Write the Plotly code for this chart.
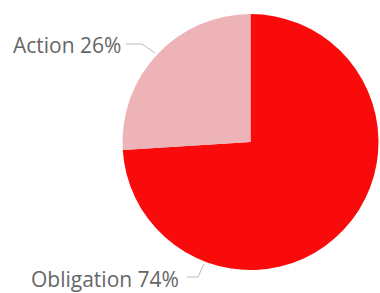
import plotly.graph_objects as go

labels = ["Obligation", "Action"]
values = [74, 26]
colors = ["#F90B0B", "#EDB3B6"]

W, H = 380, 293

fig = go.Figure()
fig.add_trace(go.Pie(
    labels=labels, values=values, sort=False, direction="clockwise", rotation=0,
    marker=dict(colors=colors, line=dict(width=0)),
    textinfo="none", hoverinfo="label+percent", showlegend=False,
    domain=dict(x=[122 / W, 379 / W], y=[(H - 270) / H, (H - 14) / H]),
))

def px(x):
    return x / W

def py(y):
    return (H - y) / H

font = dict(family="Open Sans, Segoe UI, sans-serif", size=21, color="#666666")
total = sum(values)
fig.add_annotation(x=px(123), y=py(45), xref="paper", yref="paper", xanchor="right", yanchor="middle",
                   text=f"{labels[1]} {round(values[1] / total * 100)}%", showarrow=False, font=font)
fig.add_annotation(x=px(181), y=py(279), xref="paper", yref="paper", xanchor="right", yanchor="middle",
                   text=f"{labels[0]} {round(values[0] / total * 100)}%", showarrow=False, font=font)

line = dict(color="#BBBBBB", width=1)
fig.add_shape(type="path", xref="paper", yref="paper",
              path=f"M {px(126)} {py(44)} L {px(142)} {py(44)} L {px(155)} {py(53)}", line=line)
fig.add_shape(type="path", xref="paper", yref="paper",
              path=f"M {px(187)} {py(277)} L {px(198)} {py(277)} L {px(204)} {py(264)}", line=line)

fig.update_layout(width=W, height=H, margin=dict(l=0, r=0, t=0, b=0),
                  paper_bgcolor="white", plot_bgcolor="white")
fig.write_html("out.html", config={"displayModeBar": False},
               post_script="document.body.style.margin='0';")
